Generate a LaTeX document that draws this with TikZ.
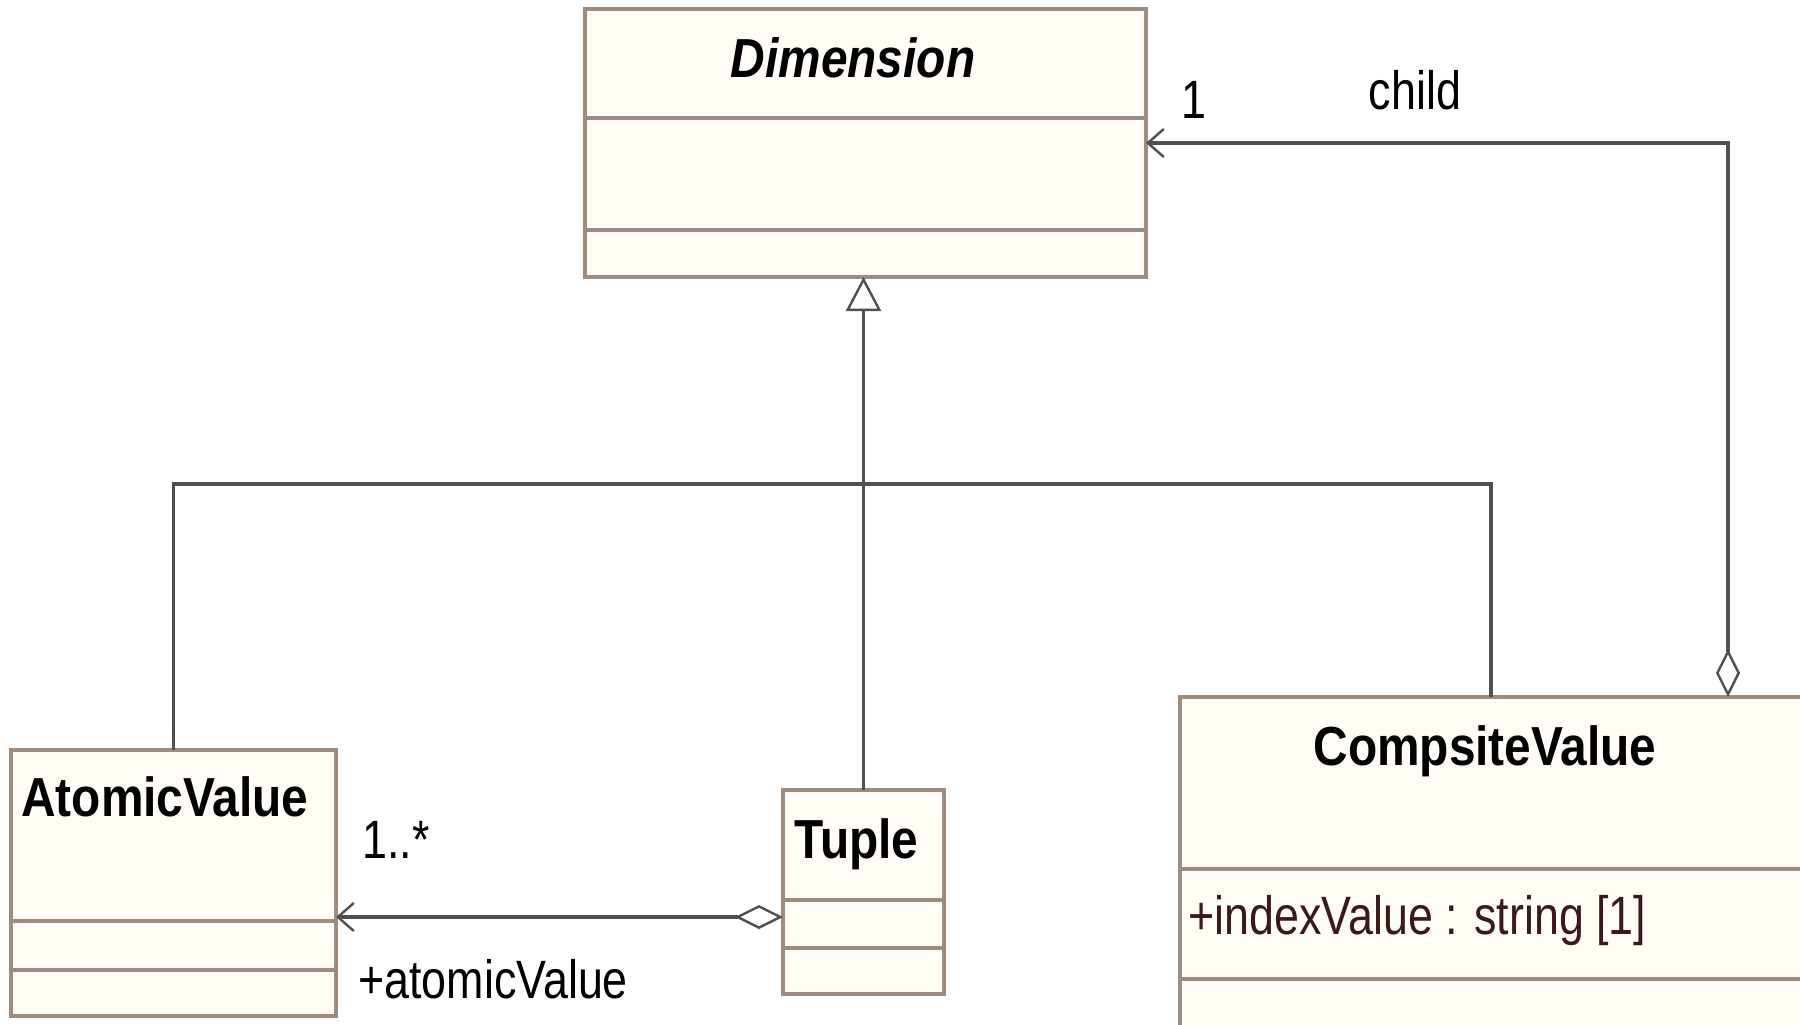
\documentclass[tikz,border=0pt]{standalone}
\usepackage{fontspec}
\setmainfont{Liberation Sans}
\newfontfamily\ttlfont[FakeStretch=0.87]{Liberation Sans}
\newfontfamily\lblfont[FakeStretch=0.83]{Liberation Sans}
\usetikzlibrary{arrows.meta,calc}
\definecolor{boxc}{RGB}{160,140,125}
\definecolor{fillc}{RGB}{255,253,246}
\definecolor{linec}{RGB}{80,80,80}
\definecolor{attrc}{RGB}{60,25,25}
\begin{document}
\begin{tikzpicture}[x=0.5pt,y=-0.5pt,
  umlbox/.style={draw=boxc, fill=fillc, line width=1.6pt, rectangle, anchor=north west, inner sep=0pt, outer sep=0pt},
  divider/.style={draw=boxc, line width=1.6pt},
  title/.style={font=\ttlfont\fontsize{27.5}{32}\selectfont\bfseries, inner sep=0pt},
  lbl/.style={font=\lblfont\fontsize{27}{32}\selectfont, inner sep=0pt},
  conn/.style={draw=linec, line width=1.6pt},
  gen/.style={conn, -{Triangle[open, length=17pt, width=17.5pt, line width=1.2pt]}},
  assoc/.style={conn, {Diamond[open, length=24pt, width=12pt, line width=1.2pt]}-{Straight Barb[length=8pt, width=14pt, line width=1.2pt]}}
]
\useasboundingbox (0,0) rectangle (1800,1024);
\clip (0,0) rectangle (1800,1024);
\fill[white] (0,0) rectangle (1800,1024);

% boxes
\node[umlbox, minimum width=280.5pt, minimum height=134pt] (dim) at (585,9) {};
\node[umlbox, minimum width=162.5pt, minimum height=133pt] (atomic) at (11,750) {};
\node[umlbox, minimum width=80.5pt, minimum height=102pt] (tuple) at (783,790) {};
\node[umlbox, minimum width=311pt, minimum height=171.5pt] (comp) at (1180,697) {};

% dividers
\draw[divider] ($(dim.north west)+(0,109)$) -- ($(dim.north east)+(0,109)$);
\draw[divider] ($(dim.north west)+(0,221)$) -- ($(dim.north east)+(0,221)$);
\draw[divider] ($(atomic.north west)+(0,171)$) -- ($(atomic.north east)+(0,171)$);
\draw[divider] ($(atomic.north west)+(0,220)$) -- ($(atomic.north east)+(0,220)$);
\draw[divider] ($(tuple.north west)+(0,110)$) -- ($(tuple.north east)+(0,110)$);
\draw[divider] ($(tuple.north west)+(0,158)$) -- ($(tuple.north east)+(0,158)$);
\draw[divider] ($(comp.north west)+(0,172)$) -- ($(comp.north east)+(0,172)$);
\draw[divider] ($(comp.north west)+(0,282)$) -- ($(comp.north east)+(0,282)$);

% titles
\node[title, font=\ttlfont\fontsize{27.5}{32}\selectfont\bfseries\itshape, anchor=base] (dimT) at (853,77) {Dimension};
\node[title, anchor=base west] (atomicT) at (21,816) {AtomicValue};
\node[title, anchor=base west] (tupleT) at (794,858) {Tuple};
\node[title, anchor=base] (compT) at (1485,765) {CompsiteValue};
\node[lbl, anchor=base west, text=attrc] (compA) at (1188,934) {+indexValue : string [1]};

% generalization
\coordinate (bus) at (863,484);
\draw[gen] (tuple.north) -- (tuple.north |- dim.south);
\draw[conn] (atomic.north) |- (bus) -| (comp.north);

% child aggregation
\coordinate (childstart) at ($(comp.north west)+(548,0)$);
\draw[assoc] (childstart) |- (dim.east);
\node[lbl, anchor=base] (oneL) at (1194,118) {1};
\node[lbl, anchor=base] (childL) at (1415,109) {child};

% tuple aggregation
\coordinate (tupstart) at ($(tuple.north west)+(0,127)$);
\draw[assoc] (tupstart) -- (tupstart -| atomic.east);
\node[lbl, anchor=base west] (multL) at (362,858) {1..*};
\node[lbl, anchor=base west] (roleL) at (358,998) {+atomicValue};
\end{tikzpicture}
\end{document}
